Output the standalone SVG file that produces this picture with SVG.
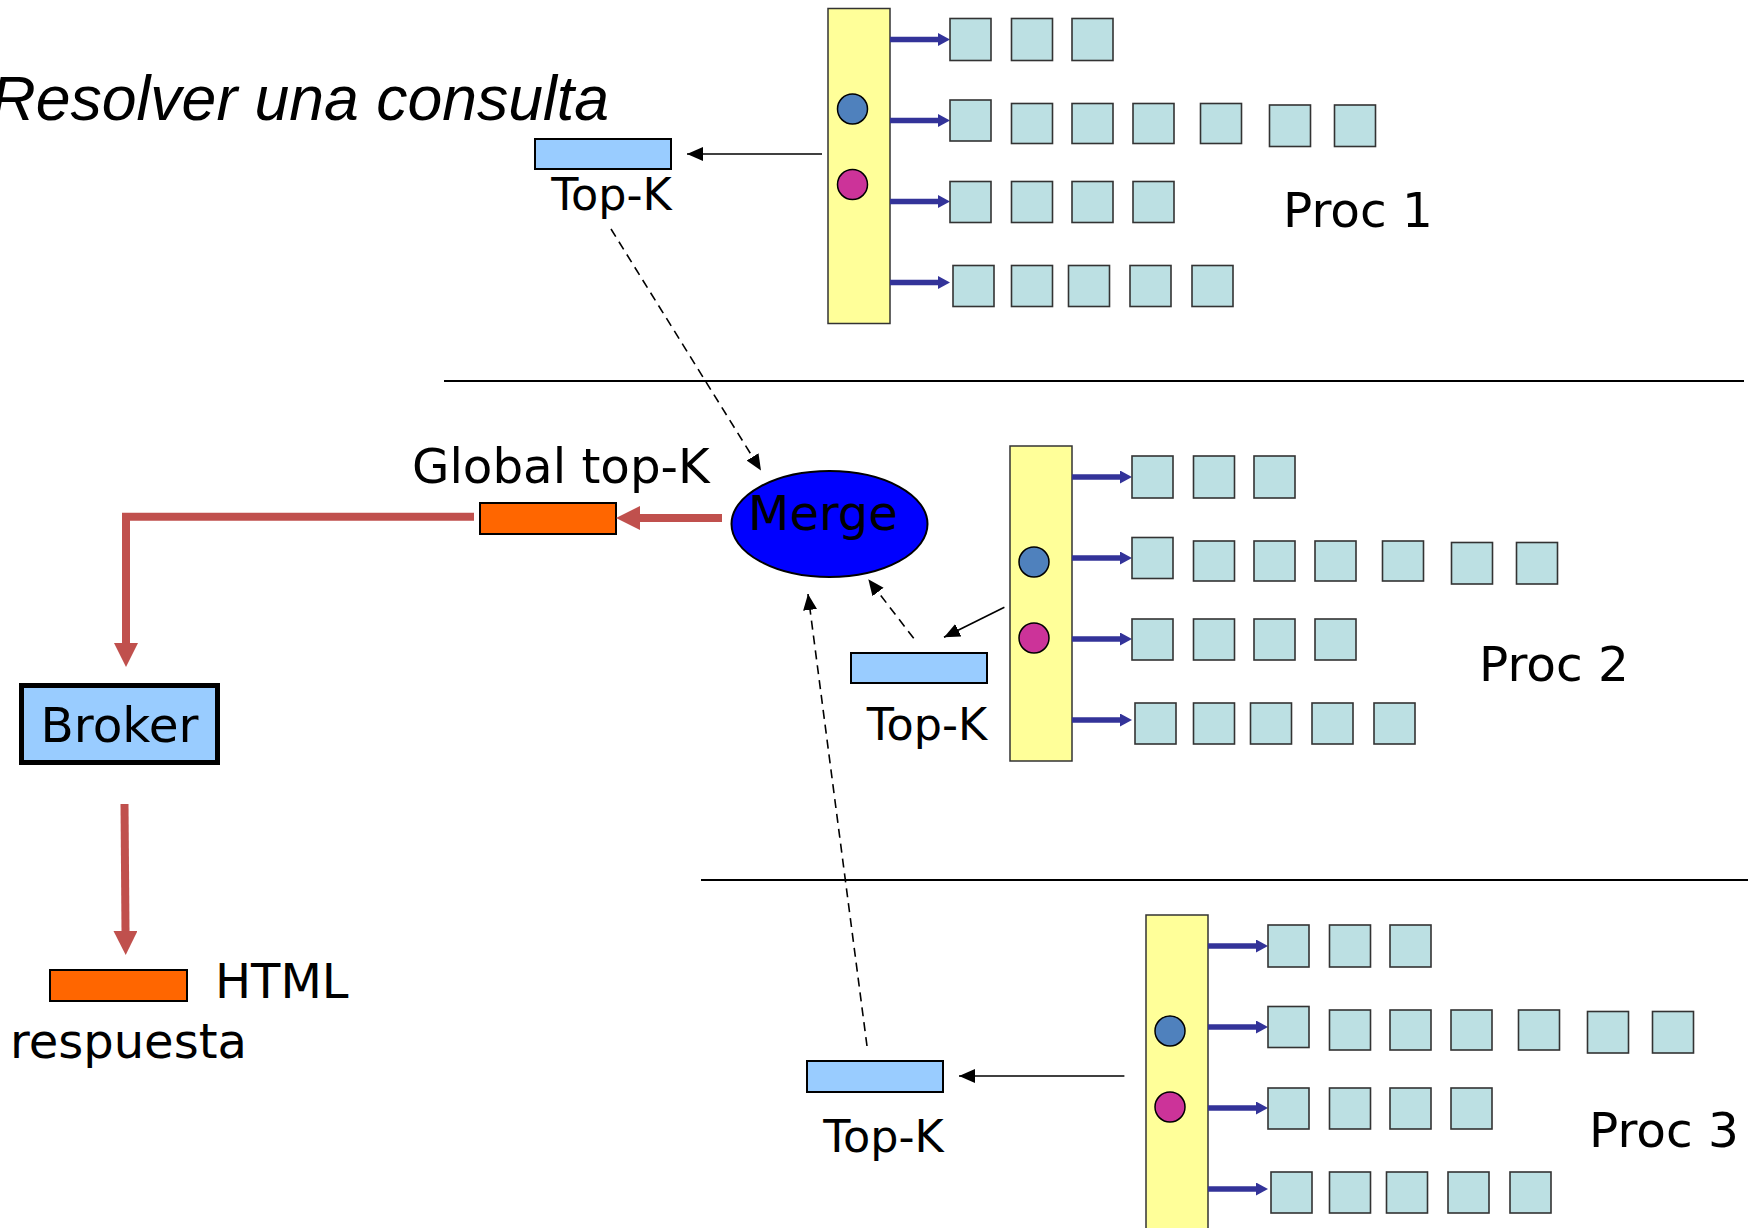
<svg xmlns="http://www.w3.org/2000/svg" xmlns:xlink="http://www.w3.org/1999/xlink" width="1748" height="1228" viewBox="0 0 1748 1228">
<style>
.t{font-family:"DejaVu Sans",sans-serif;fill:#000}
.bar{fill:#FFFF99;stroke:#333;stroke-width:1.5}
.box{fill:#BCE0E3;stroke:#333;stroke-width:1.6}
.cb{fill:#4F81BD;stroke:#000;stroke-width:1.5}
.cm{fill:#CC3399;stroke:#000;stroke-width:1.5}
.nav{stroke:#333399;stroke-width:5.5;fill:none}
.thin{stroke:#000;stroke-width:1.6;fill:none}
.dash{stroke:#000;stroke-width:1.6;fill:none;stroke-dasharray:9,6}
.red{stroke:#C0504D;stroke-width:8;fill:none;stroke-linejoin:miter}
.tk{fill:#99CCFF;stroke:#000;stroke-width:2}
.or{fill:#FF6600;stroke:#000;stroke-width:2}
.sep{stroke:#000;stroke-width:1.8}
</style>
<defs>
<marker id="mb" markerUnits="userSpaceOnUse" markerWidth="17" markerHeight="16" refX="16" refY="7" orient="auto"><path d="M0,0 L16,7 L0,14 z" fill="#000"/></marker>
<marker id="mn" markerUnits="userSpaceOnUse" markerWidth="13" markerHeight="14" refX="0" refY="6.5" orient="auto"><path d="M0,0 L12,6.5 L0,13 z" fill="#333399"/></marker>
<marker id="mr" markerUnits="userSpaceOnUse" markerWidth="25" markerHeight="26" refX="0" refY="12" orient="auto"><path d="M0,0 L24,12 L0,24 z" fill="#C0504D"/></marker>
<g id="rows">
<line class="nav" x1="62" y1="31" x2="110" y2="31" marker-end="url(#mn)"/>
<line class="nav" x1="62" y1="112" x2="110" y2="112" marker-end="url(#mn)"/>
<line class="nav" x1="62" y1="193" x2="110" y2="193" marker-end="url(#mn)"/>
<line class="nav" x1="62" y1="274" x2="110" y2="274" marker-end="url(#mn)"/>
<rect class="box" x="122" y="10" width="41" height="42"/>
<rect class="box" x="183.5" y="10" width="41" height="42"/>
<rect class="box" x="244" y="10" width="41" height="42"/>
<rect class="box" x="122" y="91.5" width="41" height="41"/>
<rect class="box" x="183.5" y="95" width="41" height="40"/>
<rect class="box" x="244" y="95" width="41" height="40"/>
<rect class="box" x="305" y="95" width="41" height="40"/>
<rect class="box" x="372.5" y="95" width="41" height="40"/>
<rect class="box" x="441.5" y="96.5" width="41" height="41.5"/>
<rect class="box" x="506.5" y="96.5" width="41" height="41.5"/>
<rect class="box" x="122" y="173" width="41" height="41"/>
<rect class="box" x="183.5" y="173" width="41" height="41"/>
<rect class="box" x="244" y="173" width="41" height="41"/>
<rect class="box" x="305" y="173" width="41" height="41"/>
<rect class="box" x="125" y="257" width="41" height="41"/>
<rect class="box" x="183.5" y="257" width="41" height="41"/>
<rect class="box" x="240.5" y="257" width="41" height="41"/>
<rect class="box" x="302" y="257" width="41" height="41"/>
<rect class="box" x="364" y="257" width="41" height="41"/>
</g>
</defs>
<rect width="1748" height="1228" fill="#fff"/>
<text x="609" y="120" text-anchor="end" font-family="'Liberation Sans',Arial,sans-serif" font-style="italic" font-size="62.5">Resolver una consulta</text>
<line class="sep" x1="444" y1="381" x2="1744" y2="381"/>
<line class="sep" x1="701" y1="880" x2="1748" y2="880"/>

<g id="proc1" transform="translate(828,8.5)">
<rect class="bar" x="0" y="0" width="62" height="315"/>
<use xlink:href="#rows"/>
<circle class="cb" cx="24.5" cy="100.5" r="15"/>
<circle class="cm" cx="24.5" cy="176" r="15"/>
</g>
<text class="t" x="1283" y="227" font-size="48.5">Proc 1</text>

<g id="proc2" transform="translate(1010,446)">
<rect class="bar" x="0" y="0" width="62" height="315"/>
<use xlink:href="#rows"/>
<circle class="cb" cx="24" cy="116" r="15"/>
<circle class="cm" cx="24" cy="192" r="15"/>
</g>
<text class="t" x="1479" y="681" font-size="48.5">Proc 2</text>

<g id="proc3" transform="translate(1146,915)">
<rect class="bar" x="0" y="0" width="62" height="315"/>
<use xlink:href="#rows"/>
<circle class="cb" cx="24" cy="116" r="15"/>
<circle class="cm" cx="24" cy="192" r="15"/>
</g>
<text class="t" x="1589" y="1147" font-size="48.5">Proc 3</text>

<g id="topk1">
<rect class="tk" x="535" y="139" width="136" height="30"/>
<text class="t" x="611.5" y="210" font-size="44.5" text-anchor="middle">Top-K</text>
</g>
<g id="topk2">
<rect class="tk" x="851" y="653" width="136" height="30"/>
<text class="t" x="927" y="740" font-size="44.5" text-anchor="middle">Top-K</text>
</g>
<g id="topk3">
<rect class="tk" x="807" y="1061" width="136" height="31"/>
<text class="t" x="883.5" y="1152" font-size="44.5" text-anchor="middle">Top-K</text>
</g>

<g id="merge">
<ellipse cx="829.5" cy="524" rx="98" ry="53" fill="#0000FF" stroke="#000" stroke-width="2"/>
<text class="t" x="748" y="530" font-size="48">Merge</text>
</g>

<g id="global">
<text class="t" x="412" y="483" font-size="48.3">Global top-K</text>
<rect class="or" x="480" y="503" width="136" height="31"/>
</g>

<g id="broker">
<rect x="21.5" y="685.5" width="196" height="77" fill="#99CCFF" stroke="#000" stroke-width="5"/>
<text class="t" x="40.5" y="742" font-size="48.5">Broker</text>
</g>

<g id="html">
<rect class="or" x="50" y="970" width="137" height="31"/>
<text class="t" x="215" y="998" font-size="48">HTML</text>
<text class="t" x="10" y="1058" font-size="48">respuesta</text>
</g>

<g id="connectors">
<line class="thin" x1="822" y1="154" x2="687" y2="154" marker-end="url(#mb)"/>
<line class="thin" x1="1004.4" y1="607.3" x2="944" y2="637.3" marker-end="url(#mb)"/>
<line class="thin" x1="1124.4" y1="1076" x2="959" y2="1076" marker-end="url(#mb)"/>
<line class="dash" x1="611" y1="229" x2="761" y2="470.5" marker-end="url(#mb)"/>
<line class="dash" x1="913.7" y1="638.3" x2="868.3" y2="579.3" marker-end="url(#mb)"/>
<line class="dash" x1="867" y1="1046" x2="808" y2="594" marker-end="url(#mb)"/>
<line class="red" x1="722" y1="518" x2="640" y2="518" marker-end="url(#mr)"/>
<path class="red" d="M474,516.7 H126 V643" marker-end="url(#mr)"/>
<line class="red" x1="124.5" y1="804" x2="125.5" y2="931" marker-end="url(#mr)"/>
</g>
</svg>
